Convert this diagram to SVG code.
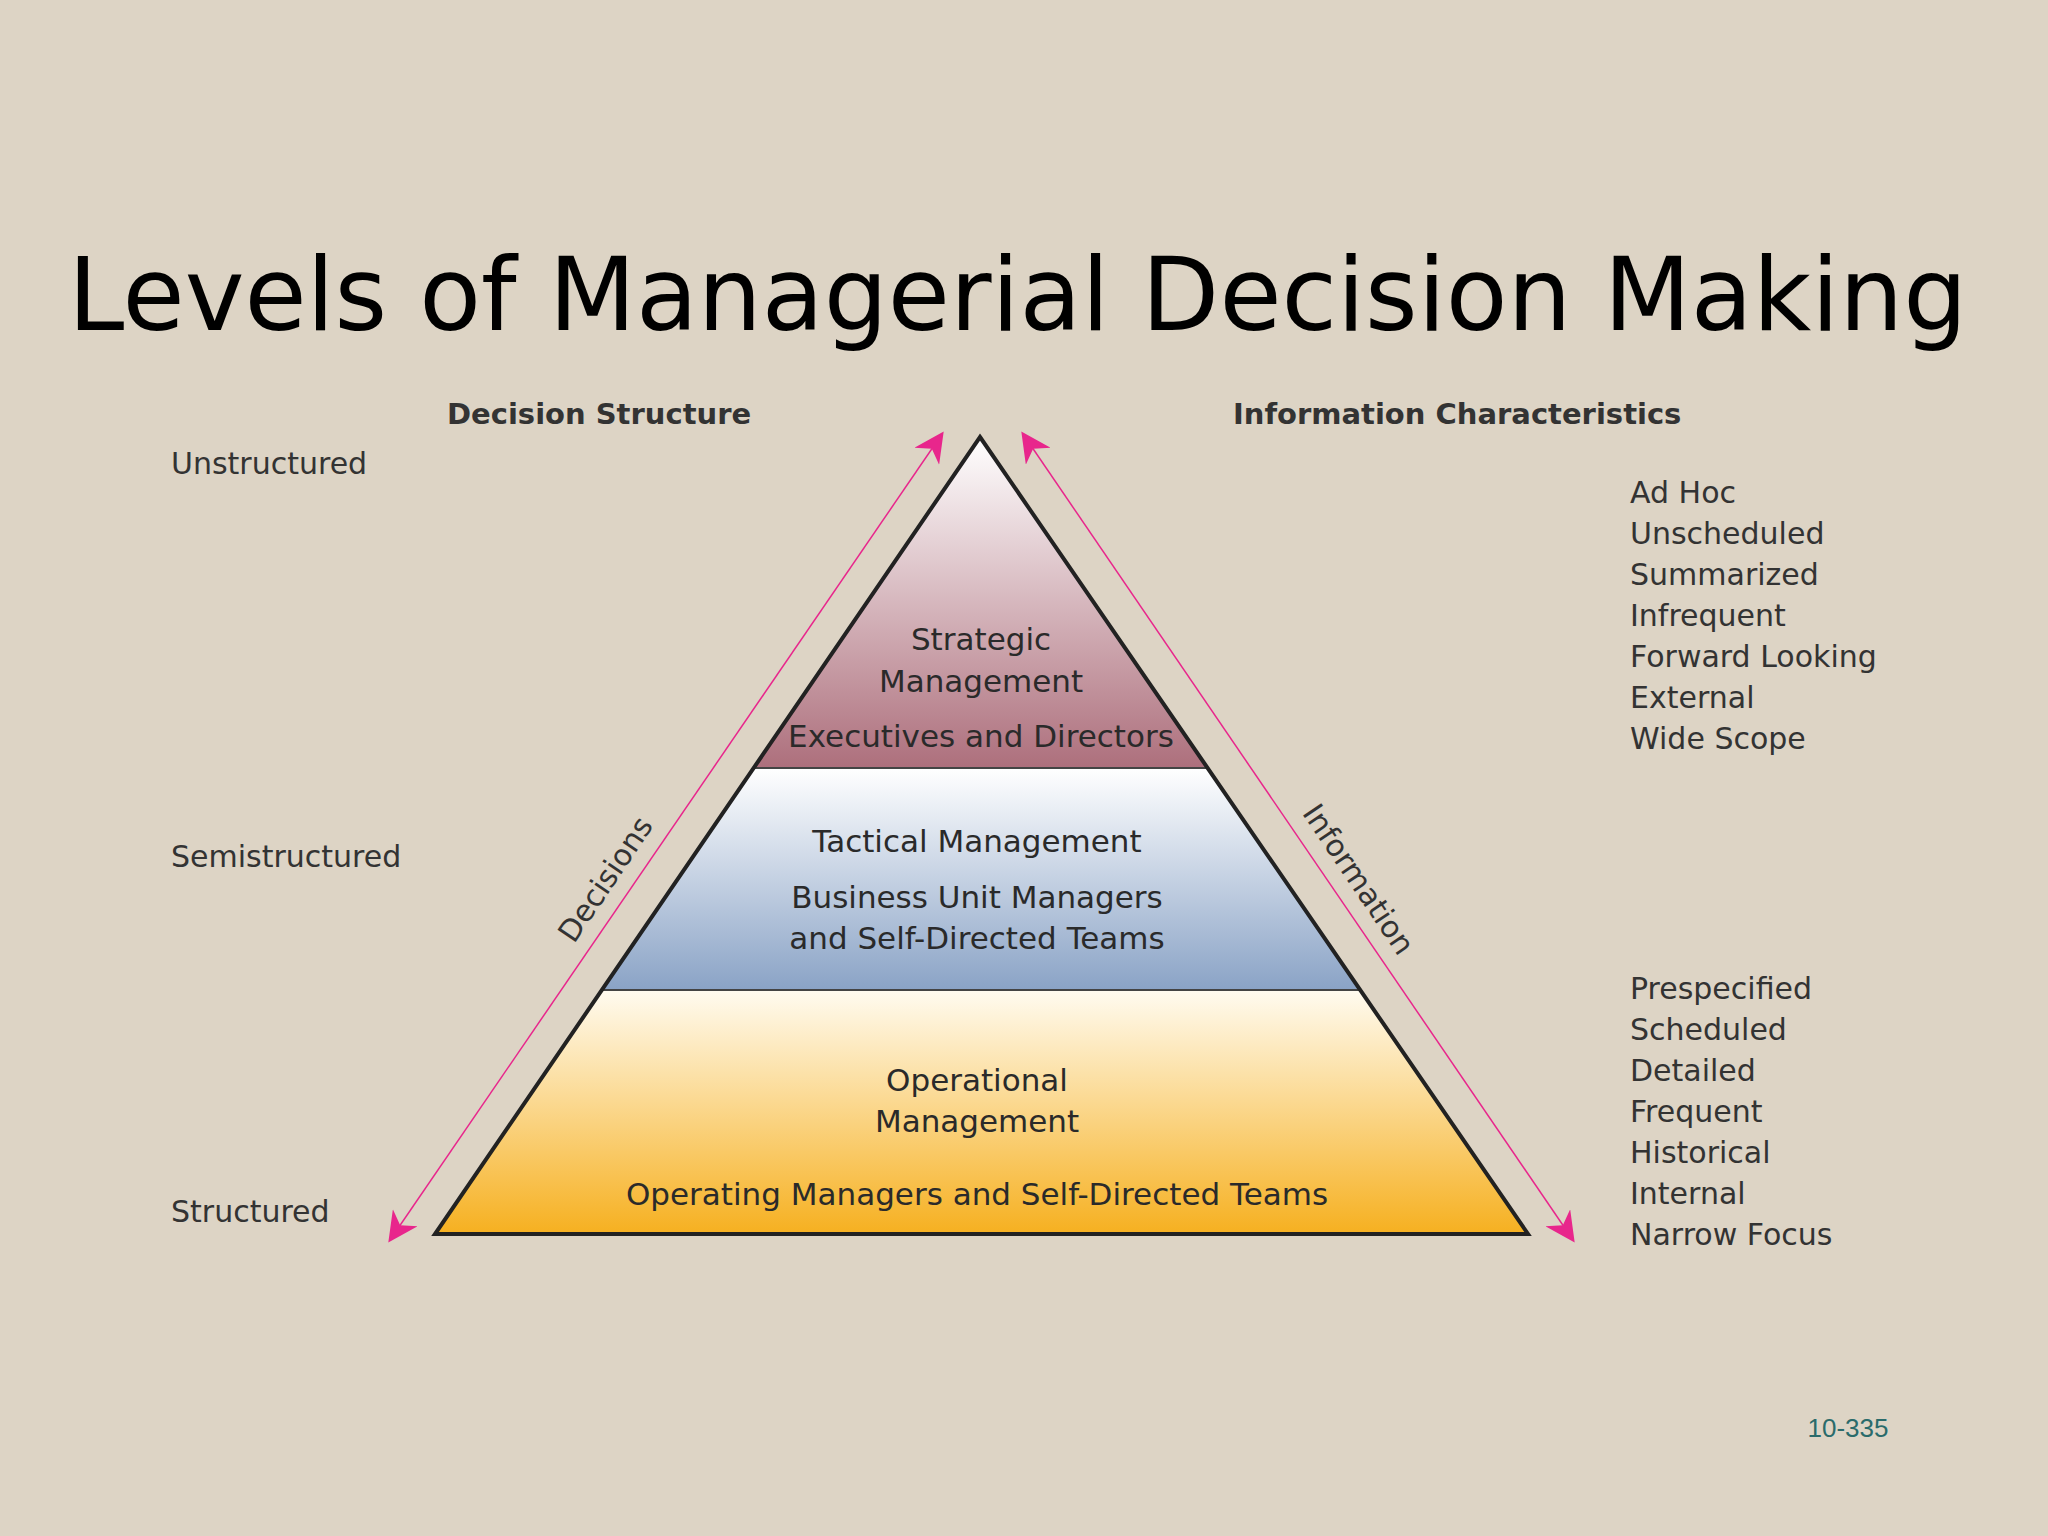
<svg xmlns="http://www.w3.org/2000/svg" width="2048" height="1536" viewBox="0 0 2048 1536">
<style>
.t{font-family:"DejaVu Sans",Verdana,sans-serif;fill:#333}
.h{font-family:"DejaVu Sans",Verdana,sans-serif;font-weight:bold;fill:#333;font-size:29px}
.s{font-size:30px}
.p{font-size:31px;text-anchor:middle;fill:#2a2a2a}
</style>
<defs>
<linearGradient id="g1" x1="0" y1="0" x2="0" y2="1"><stop offset="0" stop-color="#ffffff"/><stop offset="1" stop-color="#ad6f7c"/></linearGradient>
<linearGradient id="g2" x1="0" y1="0" x2="0" y2="1"><stop offset="0" stop-color="#ffffff"/><stop offset="1" stop-color="#8aa3c6"/></linearGradient>
<linearGradient id="g3" x1="0" y1="0" x2="0" y2="1"><stop offset="0" stop-color="#fffbf0"/><stop offset="1" stop-color="#f6b020"/></linearGradient>
<marker id="a" viewBox="0 0 10 10" refX="9" refY="5" markerWidth="40" markerHeight="30" markerUnits="userSpaceOnUse" orient="auto-start-reverse"><path d="M0,0 L10,5 L0,10 L3,5 z" fill="#e8268c"/></marker>
</defs>
<rect width="2048" height="1536" fill="#ddd4c5"/>
<text x="68" y="330" font-family="DejaVu Sans,sans-serif" font-size="101" fill="#000">Levels of Managerial Decision Making</text>
<g id="pyramid">
<polygon points="980,437 1207,768 754,768" fill="url(#g1)"/>
<polygon points="754,768 1207,768 1360,990 602,990" fill="url(#g2)"/>
<polygon points="602,990 1360,990 1528,1234 435,1234" fill="url(#g3)"/>
<line x1="754" y1="768" x2="1207" y2="768" stroke="#444" stroke-width="2"/>
<line x1="602" y1="990" x2="1360" y2="990" stroke="#444" stroke-width="2"/>
<polygon points="980,437 1528,1234 435,1234" fill="none" stroke="#222" stroke-width="4"/>
</g>
<g id="connectors" stroke="#e8268c" stroke-width="1.5" fill="none">
<line x1="942" y1="434" x2="390" y2="1240" marker-start="url(#a)" marker-end="url(#a)"/>
<line x1="1023" y1="434" x2="1573" y2="1240" marker-start="url(#a)" marker-end="url(#a)"/>
</g>
<g id="labels" class="t">
<text class="h" x="447" y="424">Decision Structure</text>
<text class="h" x="1233" y="424">Information Characteristics</text>
<text class="t s" x="171" y="474">Unstructured</text>
<text class="t s" x="171" y="867">Semistructured</text>
<text class="t s" x="171" y="1222">Structured</text>
<text class="t s" x="1630" y="503">Ad Hoc<tspan x="1630" dy="41">Unscheduled</tspan><tspan x="1630" dy="41">Summarized</tspan><tspan x="1630" dy="41">Infrequent</tspan><tspan x="1630" dy="41">Forward Looking</tspan><tspan x="1630" dy="41">External</tspan><tspan x="1630" dy="41">Wide Scope</tspan></text>
<text class="t s" x="1630" y="999">Prespecified<tspan x="1630" dy="41">Scheduled</tspan><tspan x="1630" dy="41">Detailed</tspan><tspan x="1630" dy="41">Frequent</tspan><tspan x="1630" dy="41">Historical</tspan><tspan x="1630" dy="41">Internal</tspan><tspan x="1630" dy="41">Narrow Focus</tspan></text>
<text class="t s" transform="translate(614,885) rotate(-56)" text-anchor="middle">Decisions</text>
<text class="t s" transform="translate(1350,885) rotate(56)" text-anchor="middle">Information</text>
<text x="1848" y="1437" font-family="Liberation Sans,Arial,sans-serif" font-size="26" fill="#2a6b6b" text-anchor="middle">10-335</text>
</g>
<g id="strategic" class="t"><text class="t p" x="981" y="650">Strategic</text><text class="t p" x="981" y="692">Management</text><text class="t p" x="981" y="747">Executives and Directors</text></g>
<g id="tactical" class="t"><text class="t p" x="977" y="852">Tactical Management</text><text class="t p" x="977" y="908">Business Unit Managers</text><text class="t p" x="977" y="949">and Self-Directed Teams</text></g>
<g id="operational" class="t"><text class="t p" x="977" y="1091">Operational</text><text class="t p" x="977" y="1132">Management</text><text class="t p" x="977" y="1205">Operating Managers and Self-Directed Teams</text></g>
</svg>
